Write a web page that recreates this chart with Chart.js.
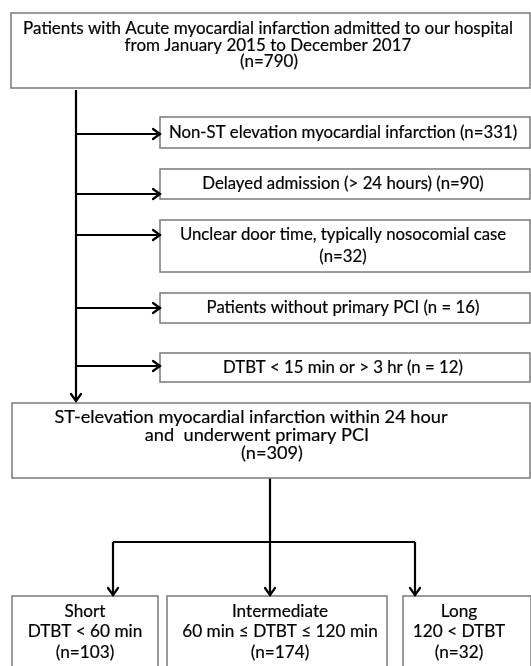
<!DOCTYPE html>
<html>
<head>
<meta charset="utf-8">
<script src="https://cdn.jsdelivr.net/npm/chart.js@4.4.1/dist/chart.umd.min.js"></script>
<style>
html,body{margin:0;padding:0;background:#fff;}
#wrap{width:531px;height:666px;position:relative;}
</style>
</head>
<body>
<div id="wrap"><canvas id="c"></canvas></div>
<script>
// ---- data ----
const totalN = 790;
const exclusionLabels = [
  ['Non-ST elevation myocardial infarction (n=331)'],
  ['Delayed admission (> 24 hours) (n=90)'],
  ['Unclear door time, typically nosocomial case', '(n=32)'],
  ['Patients without primary PCI (n = 16)'],
  ['DTBT < 15 min or > 3 hr (n = 12)']
];
const exclusionCounts = [331, 90, 32, 16, 12];
const finalN = 309;
const groupNames = ['Short', 'Intermediate', 'Long'];
const groupCriteria = ['DTBT < 60 min', '60 min \u2264 DTBT \u2264 120 min', '120 < DTBT'];
const groupCounts = [103, 174, 32];

const topLines = ['Patients with Acute myocardial infarction admitted to our hospital',
  'from January 2015 to December 2017', '(n=' + totalN + ')'];
const stLines = ['ST-elevation myocardial infarction within 24 hour',
  'and  underwent primary PCI', '(n=' + finalN + ')'];

// ---- layout (diagram coordinates, in the scales' units) ----
const topBox = {x0: 11, x1: 530, y0: 13, y1: 88, cx: [268, 268, 269], cy: [28.5, 45.5, 62], fs: 17};
const exclBoxes = [
  {y0: 117, y1: 148, arrowY: 134, cy: [132.5]},
  {y0: 169, y1: 199, arrowY: 194, cy: [184]},
  {y0: 220, y1: 272, arrowY: 235, cy: [235, 257]},
  {y0: 293, y1: 323, arrowY: 308, cy: [308]},
  {y0: 353, y1: 382, arrowY: 366, cy: [367.5]}
];
const exclX0 = 160, exclX1 = 530, exclCx = 343, exclFs = 16.8;
const mainX = 76, mainTop = 90, mainTip = 401;
const stBox = {x0: 12, x1: 530, y0: 403, y1: 478, cx: [251, 257, 272], cy: [417, 435.5, 453], fs: 18.2};
const splitY = 542, dropTip = 595, stemX = 270;
const groupBoxes = [
  {x0: 12, x1: 158, arrowX: 113, cx: 85},
  {x0: 167, x1: 387, arrowX: 270, cx: 280},
  {x0: 403, x1: 531, arrowX: 415, cx: 459}
];
const groupY0 = 596, groupY1 = 672, groupCy = [611, 631.5, 652], groupFs = 17.2;

// ---- connector segments as line datasets ----
const segs = [];
segs.push([[mainX, mainTop], [mainX, mainTip]]);
exclBoxes.forEach(b => segs.push([[mainX, b.arrowY], [exclX0 - 1, b.arrowY]]));
segs.push([[stemX, stBox.y1], [stemX, splitY]]);
segs.push([[groupBoxes[0].arrowX, splitY], [groupBoxes[2].arrowX, splitY]]);
groupBoxes.forEach(g => segs.push([[g.arrowX, splitY], [g.arrowX, dropTip]]));

const datasets = segs.map(s => ({
  data: s.map(p => ({x: p[0], y: p[1]})),
  showLine: true, borderColor: '#000', borderWidth: 2.2,
  pointRadius: 0, fill: false
}));

const arrowTips = [];
arrowTips.push({x: mainX, y: mainTip, dir: 'down'});
exclBoxes.forEach(b => arrowTips.push({x: exclX0, y: b.arrowY, dir: 'right'}));
groupBoxes.forEach(g => arrowTips.push({x: g.arrowX, y: dropTip, dir: 'down'}));

const FONT = 'Lato, "Open Sans", sans-serif';

const flowPlugin = {
  id: 'flow',
  afterDatasetsDraw(chart) {
    const ctx = chart.ctx, xs = chart.scales.x, ys = chart.scales.y;
    const X = v => xs.getPixelForValue(v), Y = v => ys.getPixelForValue(v);
    ctx.save();
    function box(x0, y0, x1, y1) {
      ctx.strokeStyle = '#7a7a7a'; ctx.lineWidth = 1.5;
      ctx.strokeRect(X(x0), Y(y0), X(x1) - X(x0), Y(y1) - Y(y0));
    }
    function text(str, cx, cy, fs) {
      ctx.fillStyle = '#000'; ctx.strokeStyle = '#000'; ctx.lineWidth = 0.2;
      ctx.font = fs + 'px ' + FONT;
      ctx.textAlign = 'center'; ctx.textBaseline = 'middle';
      ctx.fillText(str, X(cx), Y(cy));
      ctx.strokeText(str, X(cx), Y(cy));
    }
    box(topBox.x0, topBox.y0, topBox.x1, topBox.y1);
    topLines.forEach((l, i) => text(l, topBox.cx[i], topBox.cy[i], topBox.fs));
    exclBoxes.forEach((b, i) => {
      box(exclX0, b.y0, exclX1, b.y1);
      exclusionLabels[i].forEach((l, j) => text(l, exclCx, b.cy[j], exclFs));
    });
    box(stBox.x0, stBox.y0, stBox.x1, stBox.y1);
    stLines.forEach((l, i) => text(l, stBox.cx[i], stBox.cy[i], stBox.fs));
    groupBoxes.forEach((g, i) => {
      box(g.x0, groupY0, g.x1, groupY1);
      const lines = [groupNames[i], groupCriteria[i], '(n=' + groupCounts[i] + ')'];
      lines.forEach((l, j) => text(l, g.cx, groupCy[j], groupFs));
    });
    // arrowheads
    ctx.strokeStyle = '#000'; ctx.lineWidth = 2.2; ctx.lineCap = 'round'; ctx.lineJoin = 'miter';
    arrowTips.forEach(a => {
      const tx = X(a.x), ty = Y(a.y), s = 7;
      ctx.beginPath();
      if (a.dir === 'down') {
        ctx.moveTo(tx - 5, ty - s); ctx.lineTo(tx, ty); ctx.lineTo(tx + 5, ty - s);
      } else {
        ctx.moveTo(tx - s, ty - 5); ctx.lineTo(tx, ty); ctx.lineTo(tx - s, ty + 5);
      }
      ctx.stroke();
    });
    ctx.restore();
  }
};

new Chart(document.getElementById('c'), {
  type: 'scatter',
  data: {datasets},
  options: {
    responsive: true, maintainAspectRatio: false, animation: false,
    layout: {padding: 0},
    plugins: {legend: {display: false}, tooltip: {enabled: false}},
    scales: {
      x: {type: 'linear', min: 0, max: 531, display: false},
      y: {type: 'linear', min: 0, max: 666, reverse: true, display: false}
    }
  },
  plugins: [flowPlugin]
});
</script>
</body>
</html>
